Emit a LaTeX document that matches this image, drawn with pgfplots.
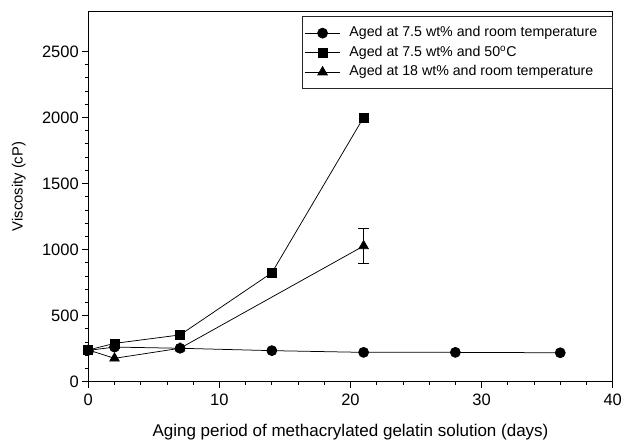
\documentclass[border=0pt]{standalone}
\usepackage{fontspec}
\setmainfont{Liberation Sans}
\usepackage{pgfplots}
\pgfplotsset{compat=1.18}
\begin{document}
\begin{tikzpicture}
\begin{axis}[
  scale only axis,
  width=524.4bp, height=370bp,
  xmin=0, xmax=40, ymin=0, ymax=2800,
  xtick={0,10,20,30,40},
  ytick={0,500,1000,1500,2000,2500},
  minor x tick num=4,
  minor y tick num=4,
  xtick pos=bottom, ytick pos=left,
  tick align=outside,
  major tick length=6bp,
  minor tick length=3.5bp,
  axis line style={line width=0.9bp},
  tick style={line width=0.8bp, black},
  /pgf/number format/assume math mode=true,
  /pgf/number format/1000 sep={},
  tick label style={font=\fontsize{16.5bp}{18bp}\selectfont},
  xticklabel style={yshift=-3bp},
  xlabel={Aging period of methacrylated gelatin solution (days)},
  ylabel={Viscosity (cP)},
  xlabel style={font=\fontsize{17bp}{19bp}\selectfont, at={(axis description cs:0.5,-0.1486)}, anchor=base},
  ylabel style={font=\fontsize{14.8bp}{17bp}\selectfont, at={(axis description cs:-0.1327,0.5276)}, anchor=center},
  clip=false,
  legend style={at={(axis description cs:1,0.9884)}, anchor=north east,
    draw=black!85, line width=0.8bp,
    font=\fontsize{14.2bp}{16bp}\selectfont,
    inner xsep=2bp, inner ysep=9bp,
    column sep=8bp, row sep=4bp,
    nodes={inner sep=1bp, text height=10.5bp, text depth=3bp}},
  legend cell align=left,
  legend image code/.code={\draw[mark repeat=2,mark phase=2] plot coordinates {(0bp,0bp) (17.5bp,0bp) (35bp,0bp)};},
  every axis plot/.append style={line width=0.75bp, black},
]
\addplot[mark=*, mark size=5bp, mark options={fill=black}] coordinates {
  (0,237) (2,262) (7,253) (14,235) (21,222) (28,222) (36,219)
};
\addlegendentry{Aged at 7.5 wt\% and room temperature\hspace*{12bp}}
\addplot[mark=square*, mark size=4.5bp, mark options={fill=black}] coordinates {
  (0,240) (2,290) (7,354) (14,824) (21,2000)
};
\addlegendentry{Aged at 7.5 wt\% and 50\textsuperscript{o}C}
\addplot[forget plot, mark=none, draw=none,
  error bars/.cd, y dir=both, y explicit,
  error bar style={line width=0.75bp, black},
  error mark options={rotate=90, mark size=5.5bp, line width=0.75bp, black}] coordinates {
  (21,1027) +- (0,133)
};
\addplot[mark=triangle*, mark size=5.5bp, mark options={fill=black}] coordinates {
  (0,240) (2,177) (7,253) (21,1027)
};
\addlegendentry{Aged at 18 wt\% and room temperature}
\end{axis}
\pgfresetboundingbox
\useasboundingbox (-88.3bp,-59.3bp) rectangle (532.7bp,381.7bp);
\end{tikzpicture}
\end{document}
